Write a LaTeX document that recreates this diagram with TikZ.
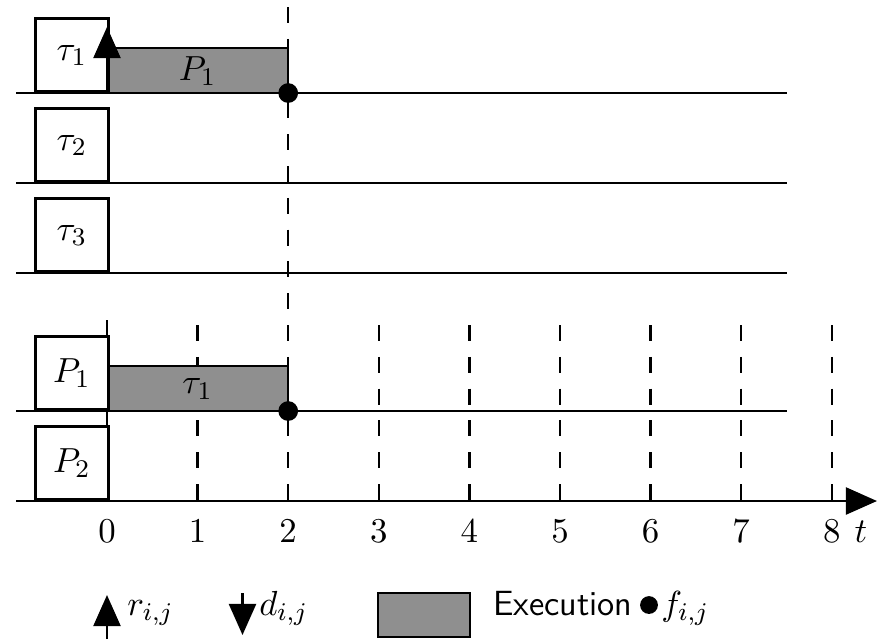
\documentclass[tikz,border=0pt]{standalone}
\usetikzlibrary{arrows.meta}
\definecolor{execgray}{RGB}{143,143,143}
\begin{document}
\begin{tikzpicture}[x=0.3144pt,y=-0.3144pt,line width=0.8pt,
  every node/.style={font=\fontsize{11pt}{13pt}\selectfont},
  lbox/.style={draw=black,fill=white,inner sep=0pt,minimum width=23pt,minimum height=23pt,anchor=south west},
  execrect/.style={draw=black,fill=execgray},
  gridline/.style={dash pattern=on 5pt off 5pt},
  rowline/.style={draw=black},
  findot/.style={fill=black},
  bigtip/.style={-{Triangle[width=8.5pt,length=9.8pt]}},
  ticklab/.style={anchor=base,inner sep=0pt},
  leglab/.style={anchor=base west,inner sep=0pt}]
\useasboundingbox (0,0) rectangle (881,639);
% grid lines
\foreach \k in {1,3,4,5,6,7,8}{
  \draw[gridline] ({107+90.6*\k},325) -- ({107+90.6*\k},501);
}
\draw[gridline] (288.2,7) -- (288.2,501);
% solid t=0 line in processor section
\draw (107,320) -- (107,501);
% execution rectangles
\draw[execrect] (107,48) rectangle (288.2,93);
\node (labP1) at (197.6,71) {$P_1$};
\draw[execrect] (107,366) rectangle (288.2,411);
\node (labtau1) at (197.6,389) {$\tau_1$};
% row lines
\foreach \y in {93,183,273,411}{
  \draw[rowline] (16,\y) -- (787,\y);
}
% axis
\coordinate (axstart) at (16,501);
\coordinate (axend) at (877,501);
\draw[bigtip] (axstart) -- (axend);
% boxes
\node[lbox] (t1) at (34,93) {$\tau_1$};
\node[lbox] (t2) at (34,183) {$\tau_2$};
\node[lbox] (t3) at (34,273) {$\tau_3$};
\node[lbox] (p1) at (34,411) {$P_1$};
\node[lbox] (p2) at (34,501) {$P_2$};
% release arrow
\coordinate (rel0) at (107,93);
\coordinate (rel1) at (107,27);
\draw[bigtip] (rel0) -- (rel1);
% finish dots
\fill[findot] (288.2,93) circle (3.1pt);
\fill[findot] (288.2,411) circle (3.1pt);
% tick labels
\foreach \k in {0,...,8}{
  \node[ticklab] at ({107+90.6*\k},542) {$\k$};
}
\node[ticklab] (tlab) at (861,542) {$t$};
% legend
\coordinate (lu0) at (107,639);
\coordinate (lu1) at (107,595);
\draw[bigtip] (lu0) -- (lu1);
\node[leglab] (lr) at (126,615) {$r_{i,j}$};
\coordinate (ld0) at (242.5,593);
\coordinate (ld1) at (242.5,635);
\draw[bigtip] (ld0) -- (ld1);
\node[leglab] (ldd) at (258,615) {$d_{i,j}$};
\draw[execrect] (378,593) rectangle (470,637);
\node[leglab] (lex) at (492,615) {\sffamily Execution};
\fill[findot] (649,605) circle (2.8pt);
\node[leglab] (lf) at (660,615) {$f_{i,j}$};
\end{tikzpicture}
\end{document}
